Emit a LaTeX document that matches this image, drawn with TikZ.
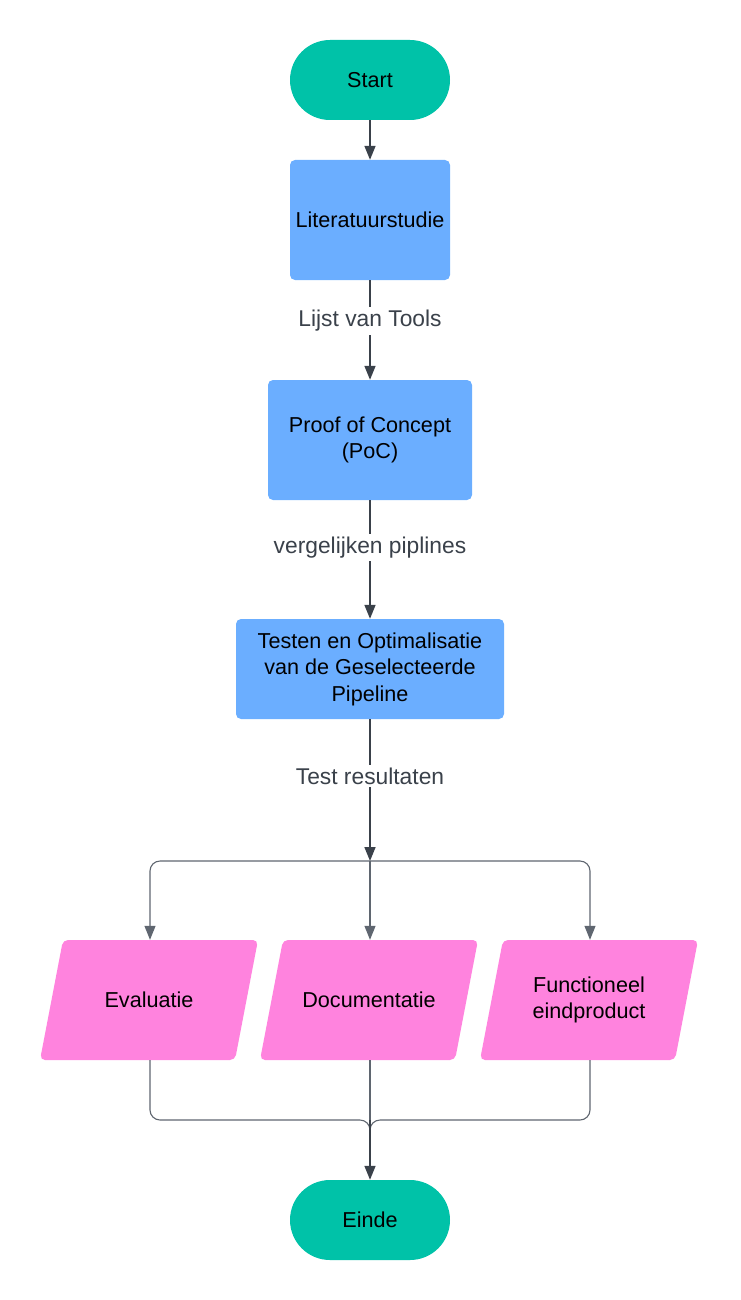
\documentclass[tikz,border=0pt]{standalone}
\usepackage{fontspec}
\setmainfont{Liberation Sans}
\usetikzlibrary{arrows.meta,calc}
\definecolor{cterm}{RGB}{0,194,168}
\definecolor{cproc}{RGB}{107,174,255}
\definecolor{cio}{RGB}{255,131,222}
\definecolor{cline}{RGB}{58,65,74}
\definecolor{cbr}{RGB}{95,102,112}
\definecolor{clbl}{RGB}{58,65,74}
\begin{document}
\begin{tikzpicture}[x=1pt,y=-1pt,
  every node/.style={font=\fontsize{21.6}{26.5}\selectfont},
  term/.style={fill=cterm, rounded corners=40pt, minimum width=160pt, minimum height=80pt, inner sep=0pt},
  proc/.style={fill=cproc, rounded corners=5pt, minimum height=120pt, align=center, inner sep=0pt},
  io/.style={minimum width=218pt, minimum height=120pt, align=center, inner sep=0pt, fill=white,
    path picture={\fill[cio, rounded corners=5pt]
      (path picture bounding box.south west)
      -- ([xshift=23pt]path picture bounding box.north west)
      -- (path picture bounding box.north east)
      -- ([xshift=-23pt]path picture bounding box.south east) -- cycle;}},
  tip/.style={-{Triangle[length=14pt,width=11pt]}},
  arr/.style={draw=cline, line width=1.6pt, tip},
  br/.style={draw=cbr, line width=1.1pt, rounded corners=10pt},
  lbl/.style={fill=white, text=clbl, inner sep=3pt, font=\fontsize{22.8}{27}\selectfont}]
\useasboundingbox (0,0) rectangle (740,1300);
\node[term] (start) at (370,80) {Start};
\node[proc, minimum width=160pt] (lit) at (370,220) {Literatuurstudie};
\node[proc, minimum width=204pt] (poc) at (370,440) {Proof of Concept\\(PoC)};
\node[proc, minimum width=268pt, minimum height=100pt] (test) at (370,669) {Testen en Optimalisatie\\van de Geselecteerde\\Pipeline};
\coordinate (j) at (370,861);
\node[io] (eval) at (149,1000) {Evaluatie};
\node[io] (doc) at (369,1000) {Documentatie};
\node[io] (func) at (589,1000) {Functioneel\\eindproduct};
\coordinate (k) at (370,1120);
\node[term] (einde) at (370,1220) {Einde};

\draw[arr] (start) -- (lit);
\draw[arr] (lit) -- node[lbl, pos=0.41] (l1) {Lijst van Tools} (poc);
\draw[arr] (poc) -- node[lbl, pos=0.40] (l2) {vergelijken piplines} (test);
\draw[arr] (test) -- node[lbl, pos=0.40] (l3) {Test resultaten} (j);

\draw[br, tip] (j) -| ([xshift=1pt]eval.north);
\draw[br, tip] (j) -- ([xshift=1pt]doc.north);
\draw[br, tip] (j) -| ([xshift=1pt]func.north);

\draw[br] ([xshift=1pt]eval.south) |- (k) -- ++(0,14);
\draw[br] ([xshift=1pt]func.south) |- (k) -- ++(0,14);
\draw[br] ([xshift=1pt]doc.south) -- (k);
\draw[arr] (k) -- (einde);
\end{tikzpicture}
\end{document}
